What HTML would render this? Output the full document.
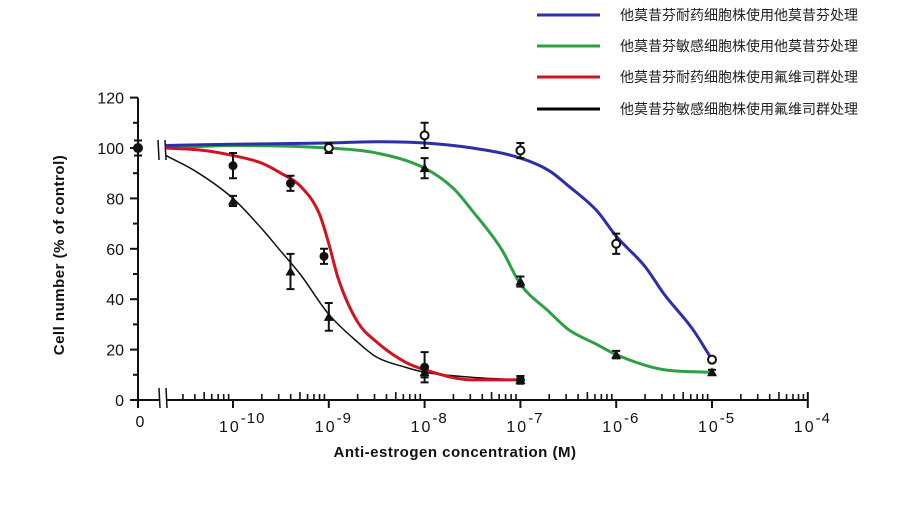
<!DOCTYPE html>
<html><head><meta charset="utf-8"><style>
body{margin:0;background:#fff;width:900px;height:526px;overflow:hidden}
svg{display:block}
text{font-family:"Liberation Sans",Arial,sans-serif;fill:#111}
.cjk{font-family:"Liberation Sans","Noto Sans CJK SC",sans-serif;font-size:14px;fill:#222}
</style></head><body>
<svg id="chart" width="900" height="526" viewBox="0 0 900 526" xmlns="http://www.w3.org/2000/svg">
<g id="legend">
<g><line x1="537" y1="15" x2="600" y2="15" stroke="#2b2fa8" stroke-width="3"/><text class="cjk" x="620" y="20">他莫昔芬耐药细胞株使用他莫昔芬处理</text></g>
<g><line x1="537" y1="46" x2="600" y2="46" stroke="#2ea043" stroke-width="3"/><text class="cjk" x="620" y="51">他莫昔芬敏感细胞株使用他莫昔芬处理</text></g>
<g><line x1="537" y1="77" x2="600" y2="77" stroke="#d0141e" stroke-width="3"/><text class="cjk" x="620" y="82">他莫昔芬耐药细胞株使用氟维司群处理</text></g>
<g><line x1="537" y1="109" x2="600" y2="109" stroke="#000" stroke-width="3"/><text class="cjk" x="620" y="114">他莫昔芬敏感细胞株使用氟维司群处理</text></g>
</g>
<g id="axes"></g>
<g id="series"></g>
<text transform="translate(64,255) rotate(-90)" text-anchor="middle" font-size="15" font-weight="bold" letter-spacing="0.5">Cell number (% of control)</text>
<text x="455" y="457" text-anchor="middle" font-size="15" font-weight="bold" letter-spacing="0.5">Anti-estrogen concentration (M)</text>
</svg>
<script>
// log10 concentration for curves
const blueLog=[-10.7,-10,-9,-8.5,-8,-7.5,-7,-6.7,-6.5,-6.2,-6,-5.7,-5.5,-5.2,-5];
const blueVal=[101,101.5,102,102.5,102,100,96,91,85,75,65,53,42,28,16];
const greenLog=[-10.7,-10,-9,-8.5,-8,-7.7,-7.5,-7.2,-7,-6.7,-6.5,-6.2,-6,-5.5,-5];
const greenVal=[100,101,100,98,92,84,75,60,46,35,28,22,18,12,11];
const redLog=[-10.7,-10.3,-10,-9.7,-9.5,-9.3,-9.1,-9,-8.9,-8.7,-8.5,-8.2,-8,-7.5,-7];
const redVal=[100,99,97,94,90,85,74,62,48,31,23,15,12,8,8];
const blackLog=[-10.7,-10.4,-10,-9.7,-9.5,-9.3,-9,-8.7,-8.5,-8.2,-8,-7.5,-7];
const blackVal=[97,91,80,68,59,50,34,23,17,13,11,9,8];
// data points: log conc (null = zero dose), value, error
const blueLogPts=[null,-9,-8,-7,-6,-5];
const blueValPts=[100,100,105,99,62,16];
const blueErr=[3,2,5,3,4,1];
const greenLogPts=[-8,-7,-6,-5];
const greenValPts=[92,47,18,11];
const greenErr=[4,2,1.5,1];
const redLogPts=[-10,-9.4,-9.05,-8,-7];
const redValPts=[93,86,57,13,8];
const redErr=[5,3,3,6,1.5];
const blackLogPts=[-10,-9.4,-9,-8,-7];
const blackValPts=[79,51,33,11,8];
const blackErr=[2,7,5.5,2,1.5];
const yTicks=[0,20,40,60,80,100,120];
const xDecades=[-10,-9,-8,-7,-6,-5,-4];

const NS="http://www.w3.org/2000/svg";
const xOf=l=>l===null?138:233+(l+10)*95.8;
const yOf=v=>400-v*2.52;
function mk(tag,attrs,parent){const e=document.createElementNS(NS,tag);for(const k in attrs)e.setAttribute(k,attrs[k]);parent.appendChild(e);return e;}
const axes=document.getElementById('axes'),ser=document.getElementById('series');

let yl=mk('line',{x1:138,y1:yOf(120),x2:138,y2:yOf(0)+2,stroke:'#111','stroke-width':2},axes);


for(let v=0;v<=120;v+=10){
  const t=mk('line',{x1:v%20===0?130:133,y1:yOf(v),x2:138,y2:yOf(v),stroke:'#111','stroke-width':2},axes);
  
  
}
yTicks.forEach(v=>{
  const t=mk('text',{x:124,y:yOf(v)+6,'text-anchor':'end','font-size':16},axes);t.textContent=v;
  
  
});
let xa=mk('line',{x1:138,y1:400,x2:160,y2:400,stroke:'#111','stroke-width':2},axes);


let xb=mk('line',{x1:166,y1:400,x2:xOf(-4),y2:400,stroke:'#111','stroke-width':2},axes);


[[159,388,160,408],[166,388,167,408],[158,140,159,160],[165,140,166,160]].forEach(b=>{
  const e=mk('line',{x1:b[0],y1:b[1],x2:b[2],y2:b[3],stroke:'#111','stroke-width':1.5},axes);
  
  
});
let z=mk('line',{x1:138,y1:400,x2:138,y2:408,stroke:'#111','stroke-width':2},axes);


let zl=mk('text',{x:140,y:427,'text-anchor':'middle','font-size':16},axes);zl.textContent='0';


for(let d=-11;d<-4;d++){
  for(let m=1;m<10;m++){
    const l=d+Math.log10(m);
    const x=xOf(l);if(x<168||x>xOf(-4)+1)continue;
    const len=m===5?8:6;
    const t=mk('line',{x1:x,y1:m===1?400:400-len,x2:x,y2:m===1?408:400,stroke:'#111','stroke-width':m===1?2:1.6},axes);
    
    
  }
}
let tEnd=mk('line',{x1:xOf(-4),y1:392,x2:xOf(-4),y2:408,stroke:'#111','stroke-width':2},axes);


xDecades.forEach(d=>{
  const t=mk('text',{x:xOf(d)-14,y:432,'font-size':16,'letter-spacing':'2'},axes);
  t.innerHTML='10<tspan dy="-9" font-size="15" letter-spacing="1">-'+(-d)+'</tspan>';
  
  
});

function curve(ls,vs,color,w,name){
  const xs=ls.map(xOf),ys=vs.map(yOf),n=xs.length;
  const dl=[],m=[];
  for(let i=0;i<n-1;i++)dl.push((ys[i+1]-ys[i])/(xs[i+1]-xs[i]));
  for(let i=0;i<n;i++){
    if(i===0)m.push(dl[0]);else if(i===n-1)m.push(dl[n-2]);
    else m.push(dl[i-1]*dl[i]<=0?0:(dl[i-1]+dl[i])/2);
  }
  for(let i=0;i<n-1;i++){
    if(dl[i]===0){m[i]=0;m[i+1]=0;continue;}
    const a=m[i]/dl[i],b=m[i+1]/dl[i],s=a*a+b*b;
    if(s>9){const t=3/Math.sqrt(s);m[i]=t*a*dl[i];m[i+1]=t*b*dl[i];}
  }
  let d='M'+xs[0]+','+ys[0];
  for(let i=0;i<n-1;i++){
    const h=(xs[i+1]-xs[i])/3;
    d+=' C'+(xs[i]+h)+','+(ys[i]+m[i]*h)+' '+(xs[i+1]-h)+','+(ys[i+1]-m[i+1]*h)+' '+xs[i+1]+','+ys[i+1];
  }
  const e=mk('path',{d:d,fill:'none',stroke:color,'stroke-width':w,'stroke-linejoin':'round'},ser);
  
  
}
function points(ls,vs,errs,shape,name){
  ls.forEach((l,i)=>{
    const x=xOf(l),y=yOf(vs[i]),e=errs[i]*2.52;
    const g=mk('g',{},ser);
    
    
    mk('path',{d:`M${x},${y-e}V${y+e}M${x-4},${y-e}H${x+4}M${x-4},${y+e}H${x+4}`,stroke:'#111','stroke-width':2,fill:'none'},g);
    if(l===null)mk('circle',{cx:x,cy:y,r:5,fill:'#111'},g);
    else if(shape==='open')mk('circle',{cx:x,cy:y,r:4,fill:'#fff',stroke:'#111','stroke-width':2},g);
    else if(shape==='dot')mk('circle',{cx:x,cy:y,r:4.5,fill:'#111'},g);
    else mk('path',{d:`M${x},${y-5}L${x+5},${y+4}L${x-5},${y+4}Z`,fill:'#111'},g);
  });
}
curve(blackLog,blackVal,'#111',1.5,'line-black');
curve(greenLog,greenVal,'#2ea043',3,'line-green');
curve(blueLog,blueVal,'#2b2fa8',3,'line-blue');
curve(redLog,redVal,'#d0141e',3,'line-red');
points(blackLogPts,blackValPts,blackErr,'tri','point-black');
points(greenLogPts,greenValPts,greenErr,'tri','point-green');
points(redLogPts,redValPts,redErr,'dot','point-red');
points(blueLogPts,blueValPts,blueErr,'open','point-blue');
</script>
</body></html>
